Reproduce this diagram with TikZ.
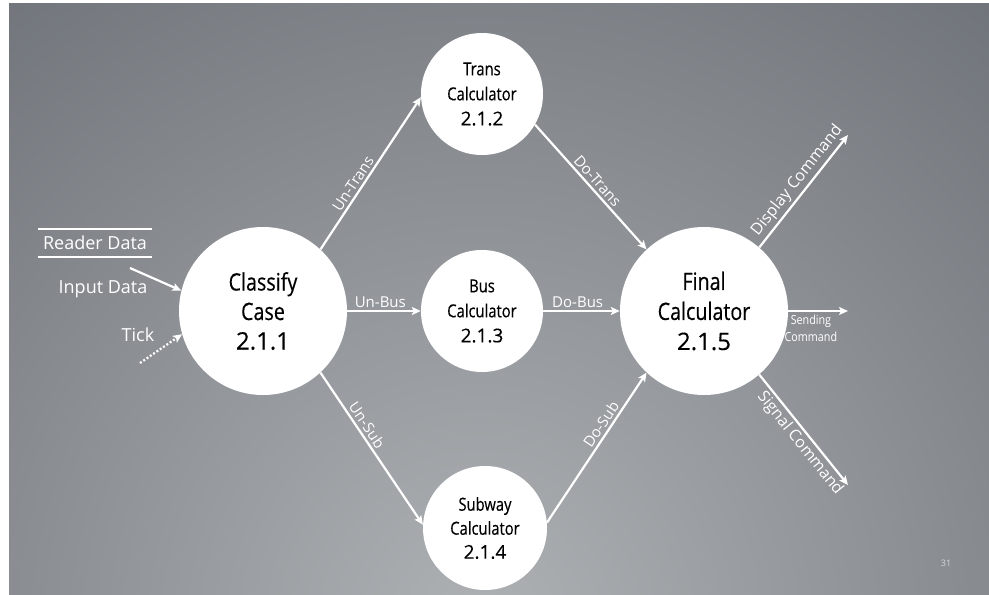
\documentclass[tikz,border=0pt]{standalone}
\usepackage{fontspec}
\setmainfont{Open Sans}
\newfontfamily\circfont{Open Sans}[FakeStretch=0.82,FakeBold=0.4]
\newfontfamily\numfont{Open Sans}[FakeBold=0.3]
\newfontfamily\smallfont{Open Sans}[FakeStretch=0.86]
\usetikzlibrary{arrows.meta}
\definecolor{bgdark}{HTML}{5B6067}
\definecolor{bglight}{HTML}{AEB1B4}
\definecolor{pagenum}{HTML}{D4D6D8}
\tikzset{
  proc/.style={circle, fill=white, draw=none, text=black, align=center, inner sep=0pt},
  flow/.style={white, line width=2.2pt, -{Stealth[length=9pt,width=8pt,inset=2pt]}},
  lbl/.style={text=white, font=\fontsize{15}{17}\selectfont, inner sep=2.5pt},
  biglbl/.style={text=white, font=\fontsize{18}{20}\selectfont, inner sep=0pt},
}
\begin{document}
\begin{tikzpicture}[x=1pt,y=-1pt]
  \useasboundingbox (0,0) rectangle (989,595);
  \fill[white] (0,0) rectangle (989,595);
  % slide background with light glow at the bottom centre
  \begin{scope}
    \clip (9,3) rectangle (989,595);
    \fill[bgdark] (9,3) rectangle (989,595);
    \shade[inner color=bglight, outer color=bgdark] (480,625) circle (1080pt);
  \end{scope}

  % processes
  \node[proc, minimum size=168pt, font=\fontsize{24}{29.5}\selectfont] (cc) at (263,311)
    {{\circfont Classify}\\{\circfont Case}\\{\numfont 2.1.1}};
  \node[proc, minimum size=122pt, font=\fontsize{18}{25}\selectfont] (tr) at (482,94)
    {{\circfont Trans}\\{\circfont Calculator}\\{\numfont\fontsize{19}{25}\selectfont 2.1.2}};
  \node[proc, minimum size=122pt, font=\fontsize{18}{25}\selectfont] (bc) at (482,311)
    {{\circfont Bus}\\{\circfont Calculator}\\{\numfont\fontsize{19}{25}\selectfont 2.1.3}};
  \node[proc, minimum size=124pt, font=\fontsize{18}{24}\selectfont] (sc) at (485,528)
    {{\circfont Subway}\\{\circfont Calculator}\\{\numfont\fontsize{19}{24}\selectfont 2.1.4}};
  \node[proc, minimum size=168pt, font=\fontsize{24}{30}\selectfont] (fc) at (704,311)
    {{\circfont Final}\\{\circfont Calculator}\\{\numfont 2.1.5}};

  % data store and external inputs
  \node[biglbl, minimum width=114pt, minimum height=28pt] (reader) at (95,243) {Reader Data};
  \draw[white, line width=2pt] (reader.north west) -- (reader.north east);
  \draw[white, line width=2pt] (reader.south west) -- (reader.south east);
  \node[biglbl] (input) at (103,289) {Input Data};
  \node[biglbl] (tick) at (138,335) {Tick};

  \coordinate (inStart) at (130,268);
  \coordinate (tickStart) at (140,363);
  \draw[flow] (inStart) -- (cc.166);
  \draw[flow, dash pattern=on 2pt off 2pt] (tickStart) -- (cc.196);

  % internal flows
  \draw[flow] (cc.47) -- node[lbl, sloped, above, pos=0.4] {Un-Trans} (tr.183);
  \draw[flow] (cc.east) -- node[lbl, above, pos=0.45] {Un-Bus} (bc.west);
  \draw[flow] (cc.-47) -- node[lbl, sloped, above, pos=0.38] {Un-Sub} (sc.177);
  \draw[flow] (tr.-30) -- node[lbl, sloped, above, pos=0.5] {Do-Trans} (fc.133);
  \draw[flow] (bc.east) -- node[lbl, above, pos=0.45] {Do-Bus} (fc.west);
  \draw[flow] (sc.5) -- node[lbl, sloped, above, pos=0.62] {Do-Sub} (fc.227);

  % outputs
  \coordinate (dispEnd) at (848,135);
  \coordinate (sendEnd) at (848,311);
  \coordinate (sigEnd) at (848,485);
  \draw[flow] (fc.49) -- node[lbl, sloped, above, pos=0.53, font=\fontsize{16}{18}\selectfont] {Display Command} (dispEnd);
  \draw[flow] (fc.east) -- node[lbl, below, pos=0.38, align=center, inner sep=3pt,
      font=\smallfont\fontsize{12.5}{17}\selectfont] {Sending\\Command} (sendEnd);
  \draw[flow] (fc.-49) -- node[lbl, sloped, below, pos=0.56, font=\fontsize{16}{18}\selectfont] {Signal Command} (sigEnd);

  % page number
  \node[text=pagenum, font=\fontsize{9}{10}\selectfont] (pnum) at (946,563) {31};
\end{tikzpicture}
\end{document}
